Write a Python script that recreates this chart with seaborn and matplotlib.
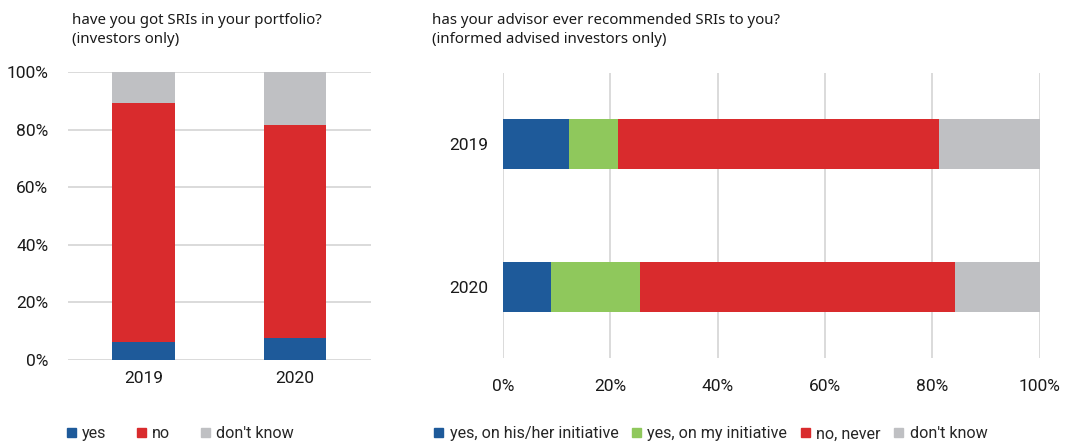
import numpy as np
import pandas as pd
import matplotlib
matplotlib.use("Agg")
import matplotlib.pyplot as plt
import seaborn as sns
from matplotlib.patches import Patch
from matplotlib.ticker import PercentFormatter

# left panel: have you got SRIs in your portfolio?
years = ["2019", "2020"]
left_labels = ["yes", "no", "don't know"]
left_yes = [6.4, 7.5]
left_no = [82.8, 74.1]
left_dk = [10.8, 18.4]

# right panel: has your advisor ever recommended SRIs to you?
right_labels = ["yes, on his/her initiative", "yes, on my initiative", "no, never", "don't know"]
right_his = [12.3, 9.0]
right_mine = [9.2, 16.5]
right_never = [59.7, 58.8]
right_dk = [18.8, 15.7]

BLUE = "#1e5a9a"
RED = "#d92b2d"
GREY = "#bfc0c3"
GREEN = "#8fc85c"
GRID = "#d4d4d4"

sns.set_theme(style="white")
plt.rcParams["font.family"] = ["Liberation Sans Narrow", "Roboto", "DejaVu Sans"]
TITLE_FONT = ["Noto Sans", "DejaVu Sans"]

fig = plt.figure(figsize=(10.75, 4.44), dpi=100)
ax1 = fig.add_axes([0.063, 0.189, 0.282, 0.649])
ax2 = fig.add_axes([0.468, 0.194, 0.499, 0.642])


def stacked(ax, series, colors, horizontal, width):
    # draw cumulative totals from the top down so the lower ones sit in front
    cum = np.cumsum(np.array(series), axis=0)
    for vals, col in zip(cum[::-1], colors[::-1]):
        df = pd.DataFrame({"year": years, "value": vals})
        if horizontal:
            sns.barplot(data=df, x="value", y="year", orient="h", color=col,
                        saturation=1, width=width, linewidth=0, ax=ax)
        else:
            sns.barplot(data=df, x="year", y="value", color=col,
                        saturation=1, width=width, linewidth=0, ax=ax)


# left chart
stacked(ax1, [left_yes, left_no, left_dk], [BLUE, RED, GREY], False, 0.41)
ax1.set_ylim(0, 100)
ax1.set_yticks(np.arange(0, 101, 20))
ax1.yaxis.set_major_formatter(PercentFormatter(decimals=0))
ax1.grid(axis="y", color=GRID, linewidth=1.2)
ax1.set_axisbelow(True)
sns.despine(ax=ax1, left=True, bottom=True)
ax1.set_xlabel("")
ax1.set_ylabel("")
ax1.tick_params(axis="both", length=0, labelsize=12.5, colors="#1a1a1a")
ax1.tick_params(axis="x", pad=8)
ax1.tick_params(axis="y", pad=14)

# right chart
stacked(ax2, [right_his, right_mine, right_never, right_dk],
        [BLUE, GREEN, RED, GREY], True, 0.35)
ax2.set_xlim(0, 100)
ax2.set_xticks(np.arange(0, 101, 20))
ax2.xaxis.set_major_formatter(PercentFormatter(decimals=0))
ax2.grid(axis="x", color=GRID, linewidth=1.2)
ax2.set_axisbelow(True)
sns.despine(ax=ax2, left=True, bottom=True)
ax2.set_xlabel("")
ax2.set_ylabel("")
ax2.tick_params(axis="both", length=0, labelsize=12.5, colors="#1a1a1a")
ax2.tick_params(axis="x", pad=15)
ax2.tick_params(axis="y", pad=11)

# titles
fig.text(0.067, 0.97, "have you got SRIs in your portfolio?\n(investors only)",
         ha="left", va="top", fontsize=10.8, family=TITLE_FONT,
         color="#1a1a1a", linespacing=1.35)
fig.text(0.402, 0.97, "has your advisor ever recommended SRIs to you?\n(informed advised investors only)",
         ha="left", va="top", fontsize=10.8, family=TITLE_FONT,
         color="#1a1a1a", linespacing=1.35)

# legends
leg_kw = dict(frameon=False, handlelength=0.55, handleheight=0.55,
              handletextpad=0.4, fontsize=11.6, borderaxespad=0, borderpad=0)
h1 = [Patch(color=c, label=l) for c, l in zip([BLUE, RED, GREY], left_labels)]
fig.legend(handles=h1, loc="lower left", bbox_to_anchor=(0.062, 0.006),
           ncol=3, columnspacing=1.9, **leg_kw)
h2 = [Patch(color=c, label=l) for c, l in zip([BLUE, GREEN, RED, GREY], right_labels)]
fig.legend(handles=h2, loc="lower left", bbox_to_anchor=(0.404, 0.006),
           ncol=4, columnspacing=0.85, **leg_kw)

fig.savefig("out.png", dpi=100, facecolor="white")
